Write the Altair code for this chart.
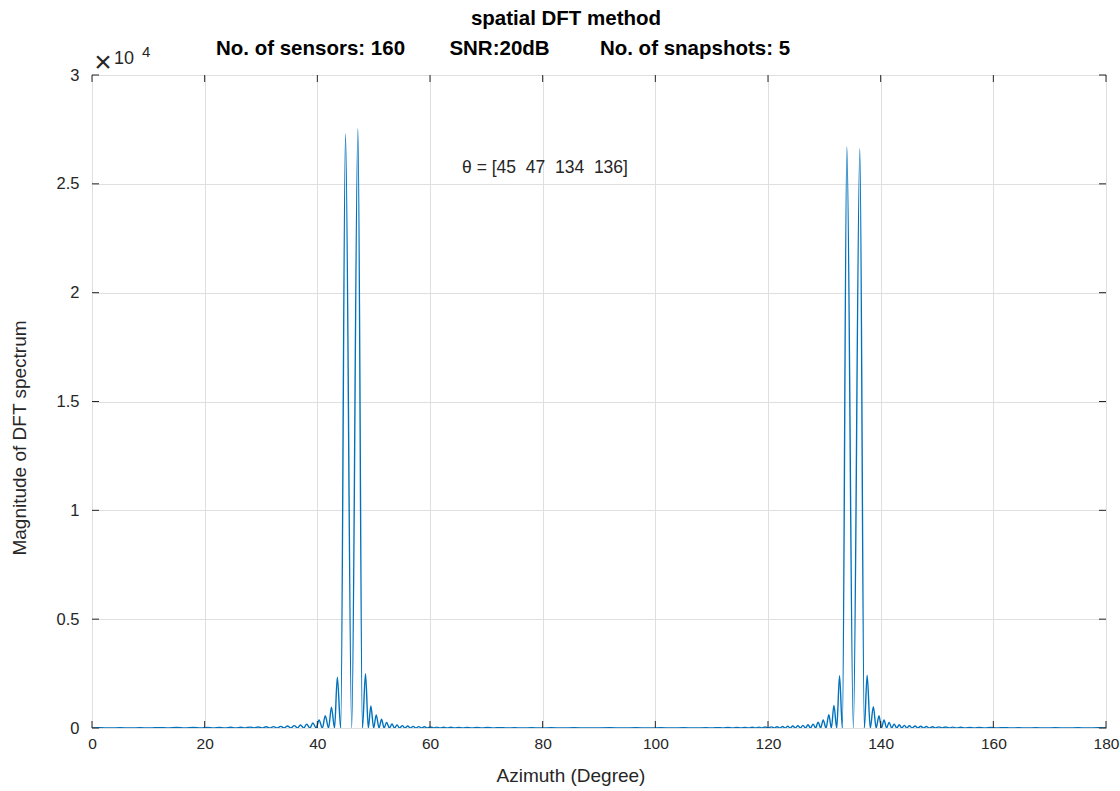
import altair as alt
import pandas as pd

# ---------------- data (magnitude in raw units) ----------------
# left of the 45/47 deg pair: sidelobe peaks and nulls
L1_peak_x = [1.5, 5.0, 8.5, 12.0, 15.0, 18.0, 20.5, 22.6, 24.6, 26.4, 28.0, 29.5, 30.9, 32.2,
             33.5, 34.7, 35.9, 37.0, 38.1, 39.2, 40.3, 41.4, 42.5, 43.55]
L1_peak_y = [12, 14, 15, 17, 20, 23, 26, 29, 33, 37, 42, 48, 55, 65,
             75, 90, 110, 140, 180, 230, 370, 560, 960, 2330]
L1_null_x = [0, 3.2, 6.8, 10.3, 13.5, 16.5, 19.3, 21.6, 23.6, 25.5, 27.2, 28.8, 30.2, 31.6,
             32.9, 34.1, 35.3, 36.5, 37.6, 38.7, 39.8, 40.9, 42.0, 43.05, 44.15]

# main lobes 45 / 47 deg
M1_peak_x = [45.0, 47.2]
M1_peak_y = [27290, 27520]
M1_null_x = [46.1, 48.0]

# right of the 45/47 deg pair
R1_peak_x = [48.55, 49.5, 50.45, 51.4, 52.3, 53.25, 54.15, 55.1, 56.05, 57.0, 58.0, 59.0, 60.1,
             61.2, 62.4, 63.7, 65.1, 66.6, 68.3, 70.2, 72.4, 75.0, 78.0, 81.5, 85.5]
R1_peak_y = [2490, 1010, 600, 400, 260, 185, 140, 110, 90, 75, 65, 55, 48,
             42, 37, 33, 29, 26, 23, 20, 17, 15, 13, 12, 10]
R1_null_x = [49.05, 50.0, 50.95, 51.85, 52.8, 53.7, 54.6, 55.55, 56.5, 57.5, 58.5, 59.55, 60.65,
             61.8, 63.05, 64.4, 65.85, 67.45, 69.25, 71.3, 73.7, 76.5, 79.7, 83.5, 88.0]

# middle floor
MID_peak_x = [92.0, 96.5, 101.0, 105.0]
MID_peak_y = [9, 9, 10, 11]
MID_null_x = [94.3, 98.8, 103.0, 107.0]

# left of the 134/136 deg pair
L2_peak_x = [109.0, 111.1, 112.9, 114.5, 115.9, 117.2, 118.4, 119.5, 120.6, 121.6, 122.6, 123.5,
             124.4, 125.3, 126.2, 127.1, 128.0, 128.9, 129.8, 130.8, 131.7, 132.7]
L2_peak_y = [16, 19, 22, 26, 30, 35, 40, 46, 52, 60, 70, 80,
             90, 100, 120, 150, 180, 270, 370, 610, 1040, 2400]
L2_null_x = [110.1, 112.0, 113.7, 115.2, 116.55, 117.8, 118.95, 120.05, 121.1, 122.1, 123.05,
             123.95, 124.85, 125.75, 126.65, 127.55, 128.45, 129.35, 130.3, 131.25, 132.2, 133.2]

# main lobes 134 / 136 deg
M2_peak_x = [134.0, 136.3]
M2_peak_y = [26690, 26600]
M2_null_x = [135.15, 137.1]

# right of the 134/136 deg pair
R2_peak_x = [137.6, 138.7, 139.7, 140.6, 141.5, 142.4, 143.3, 144.2, 145.1, 146.1, 147.1, 148.1,
             149.2, 150.3, 151.5, 152.8, 154.2, 155.8, 157.5, 159.5, 161.8, 164.5, 167.5, 171.0,
             175.0, 178.5]
R2_peak_y = [2430, 980, 570, 370, 260, 180, 150, 120, 100, 90, 80, 70,
             60, 52, 46, 40, 35, 30, 26, 22, 19, 16, 14, 12, 11, 10]
R2_null_x = [138.15, 139.2, 140.15, 141.05, 141.95, 142.85, 143.75, 144.65, 145.6, 146.6, 147.6,
             148.65, 149.75, 150.9, 152.15, 153.5, 155.0, 156.65, 158.5, 160.65, 163.1, 166.0,
             169.2, 173.0, 176.8, 180.0]

x_ticks = [0, 20, 40, 60, 80, 100, 120, 140, 160, 180]
y_ticks = [0, 5000, 10000, 15000, 20000, 25000, 30000]

title_line1 = "spatial DFT method"
title_parts = ["No. of sensors: 160", "SNR:20dB", "No. of snapshots: 5"]
annotation = "θ = [45\u00a0\u00a047\u00a0\u00a0134\u00a0\u00a0136]"
x_title = "Azimuth (Degree)"
y_title = "Magnitude of DFT spectrum"

# ---------------- build table ----------------
rows = []
for px, py, nx in [(L1_peak_x, L1_peak_y, L1_null_x), (M1_peak_x, M1_peak_y, M1_null_x),
                   (R1_peak_x, R1_peak_y, R1_null_x), (MID_peak_x, MID_peak_y, MID_null_x),
                   (L2_peak_x, L2_peak_y, L2_null_x), (M2_peak_x, M2_peak_y, M2_null_x),
                   (R2_peak_x, R2_peak_y, R2_null_x)]:
    rows += [{"az": a, "mag": m} for a, m in zip(px, py)]
    rows += [{"az": a, "mag": 0} for a in nx]
df = pd.DataFrame(rows).sort_values("az").reset_index(drop=True)

W, H = 1014, 653
FONT = "Liberation Sans"
DARK = "#262626"

xscale = alt.Scale(domain=[0, 180], nice=False, zero=False)
yscale = alt.Scale(domain=[0, 30000], nice=False)

line = alt.Chart(df).mark_line(color="#0072BD", strokeWidth=1.4, interpolate="monotone", clip=True).encode(
    x=alt.X("az:Q", scale=xscale, axis=alt.Axis(values=x_ticks, title=None, grid=True, ticks=False,
                                                 domain=False, labelPadding=8, labelFontSize=15.5,
                                                 labelFont=FONT, labelColor=DARK,
                                                 gridColor="#dfdfdf", labelFlush=False)),
    y=alt.Y("mag:Q", scale=yscale, axis=alt.Axis(values=y_ticks, title=None, grid=True, ticks=False,
                                                  domain=False, labelPadding=13, labelFontSize=16.5,
                                                  labelFont=FONT, labelColor=DARK,
                                                  gridColor="#dfdfdf",
                                                  labelExpr="format(datum.value/10000, '~g')")),
)

xt = pd.DataFrame({"v": x_ticks})
yt = pd.DataFrame({"v": y_ticks})
TL = 7
xtick_b = alt.Chart(xt).mark_rule(color=DARK, strokeWidth=1).encode(
    x=alt.X("v:Q", scale=xscale), y=alt.value(H), y2=alt.value(H - TL))
xtick_t = alt.Chart(xt).mark_rule(color=DARK, strokeWidth=1).encode(
    x=alt.X("v:Q", scale=xscale), y=alt.value(0), y2=alt.value(TL))
ytick_l = alt.Chart(yt).mark_rule(color=DARK, strokeWidth=1).encode(
    y=alt.Y("v:Q", scale=yscale), x=alt.value(0), x2=alt.value(TL))
ytick_r = alt.Chart(yt).mark_rule(color=DARK, strokeWidth=1).encode(
    y=alt.Y("v:Q", scale=yscale), x=alt.value(W), x2=alt.value(W - TL))

one = pd.DataFrame({"k": [0]})


def txt(s, x, y, size=15, bold=False, align="center", angle=0, font=FONT):
    kw = dict(font=font, fontSize=size, color="#000000" if bold else DARK, align=align,
              baseline="middle", fontWeight="bold" if bold else "normal")
    if angle:
        kw["angle"] = angle
    return alt.Chart(one).mark_text(**kw).encode(x=alt.value(x), y=alt.value(y), text=alt.value(s))


texts = [
    txt(title_line1, 566 - 92, 19 - 75, size=20.5, bold=True),
    txt(title_parts[0], 310.5 - 92, 49 - 75, size=20.5, bold=True),
    txt(title_parts[1], 499.5 - 92, 49 - 75, size=20.5, bold=True),
    txt(title_parts[2], 695 - 92, 49 - 75, size=20.5, bold=True),
    txt("×", 103 - 92, 63 - 75, size=30),
    txt("10", 114 - 92, 59 - 75, size=18, align="left"),
    txt("4", 142 - 92, 52 - 75, size=15, align="left"),
    txt(annotation, 545 - 92, 168 - 75, size=17.5),
    txt(x_title, 571 - 92, 776 - 75, size=19),
    txt(y_title, 20 - 92, 438 - 75, size=19, angle=270),
]

chart = alt.layer(line, xtick_b, xtick_t, ytick_l, ytick_r, *texts).properties(
    width=W, height=H,
    autosize=alt.AutoSizeParams(type="none"),
    padding={"left": 92, "top": 75, "right": 14, "bottom": 63},
    background="white",
).configure_view(stroke=DARK, strokeWidth=1)

chart.save("out.html", embed_options={"renderer": "svg", "actions": False})
